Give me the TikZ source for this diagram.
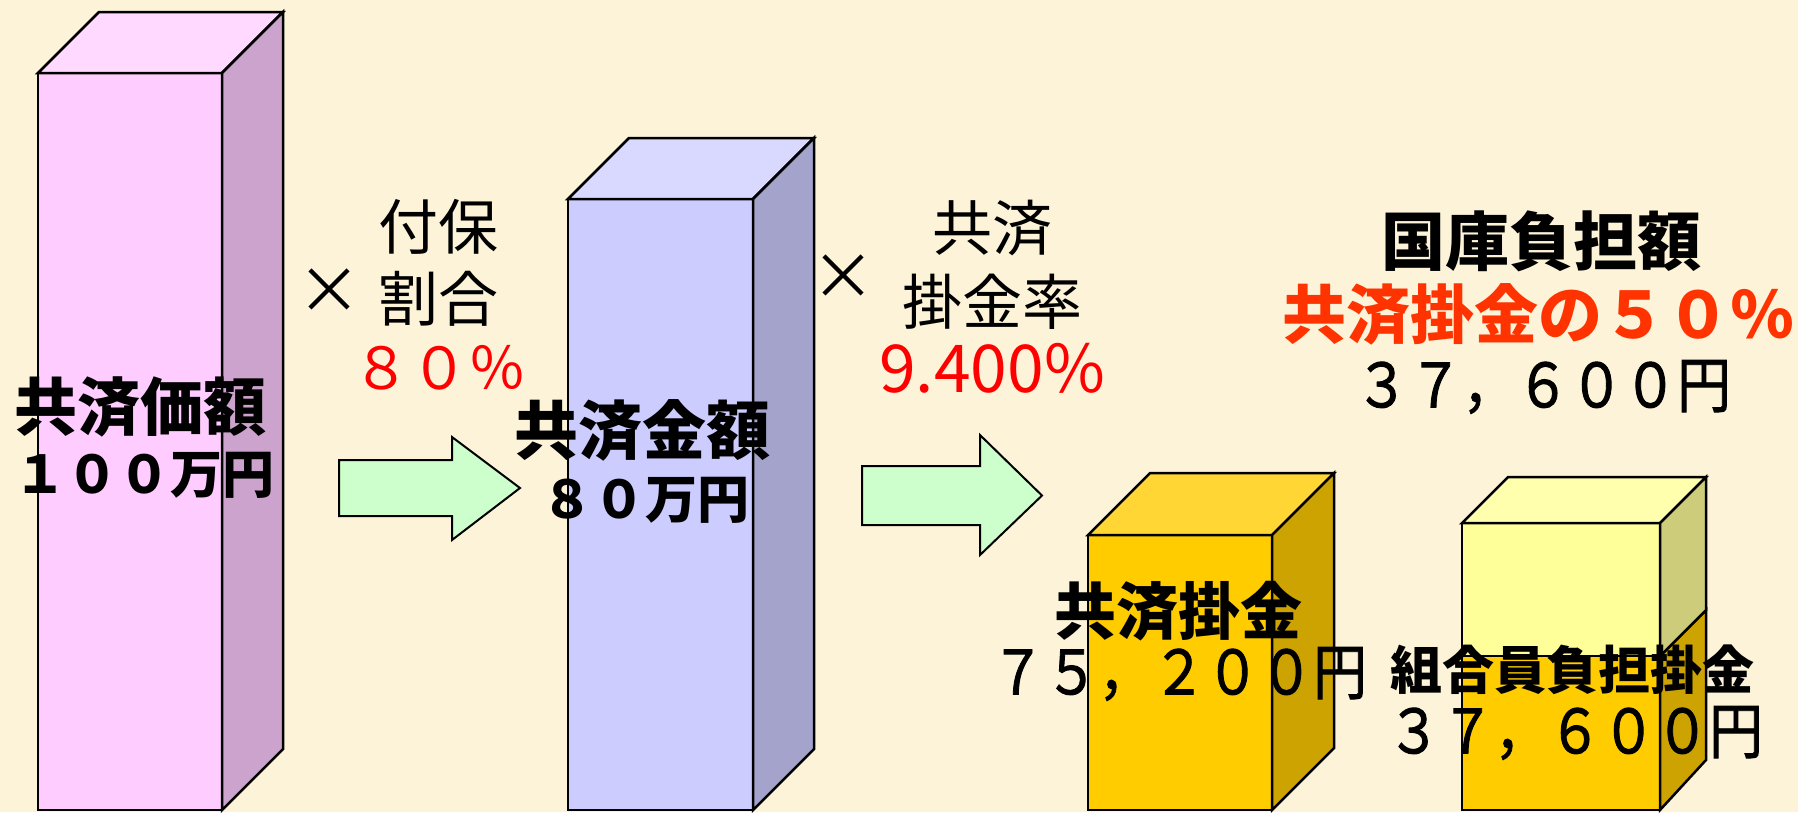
\documentclass[tikz,border=0pt]{standalone}
\usepackage{fontspec}
\setmainfont{Noto Sans CJK JP}
\newfontfamily\jpmid[FakeBold=1.5]{Noto Sans CJK JP}
\usetikzlibrary{positioning}

\definecolor{paper}{RGB}{252,243,216}
\definecolor{pinkF}{RGB}{255,204,255}
\definecolor{pinkS}{RGB}{204,163,204}
\definecolor{pinkT}{RGB}{255,217,255}
\definecolor{blueF}{RGB}{204,204,255}
\definecolor{blueS}{RGB}{163,163,204}
\definecolor{blueT}{RGB}{217,217,255}
\definecolor{goldF}{RGB}{255,204,0}
\definecolor{goldS}{RGB}{204,163,0}
\definecolor{goldT}{RGB}{255,214,51}
\definecolor{lemF}{RGB}{255,255,153}
\definecolor{lemS}{RGB}{204,204,122}
\definecolor{lemT}{RGB}{255,255,173}
\definecolor{mint}{RGB}{204,255,204}
\definecolor{orred}{RGB}{255,51,0}

% box: x1, x2, ytop, ybottom, depth, colour prefix
\newcommand{\prism}[6]{%
	\filldraw[fill=#6F] (#1,#3) rectangle (#2,#4);
	\filldraw[fill=#6T] (#1,#3) -- (#1+#5,#3-#5) -- (#2+#5,#3-#5) -- (#2,#3) -- cycle;
	\filldraw[fill=#6S] (#2,#3) -- (#2+#5,#3-#5) -- (#2+#5,#4-#5) -- (#2,#4) -- cycle;
}
% block arrow: x1, x2 (shaft end), tip, shaft top, shaft bottom, head top, head bottom
\newcommand{\fatarrow}[7]{%
	\filldraw[fill=mint,line width=2pt] (#1,#4) -- (#2,#4) -- (#2,#6) -- (#3,#4/2+#5/2) -- (#2,#7) -- (#2,#5) -- (#1,#5) -- cycle;
}

\begin{document}
\begin{tikzpicture}[x=1pt,y=-1pt,line width=2.5pt,line join=miter,
	every node/.style={inner sep=0pt},
	txt/.style={font=\fontsize{#1}{#1}\selectfont},
	btxt/.style={font=\bfseries\fontsize{#1}{#1}\selectfont},
	yen/.style={font=\jpmid\fontsize{61}{61}\selectfont,xscale=.88}]
	\fill[paper] (0,0) rectangle (1798,812);

	\prism{38}{222}{73}{810}{61}{pink}
	\prism{568}{753}{199}{810}{61}{blue}
	\prism{1088}{1272}{535}{810}{62}{gold}
	% stacked box
	\filldraw[fill=goldF] (1462,656) rectangle (1660,810);
	\filldraw[fill=goldS] (1660,656) -- (1706,610) -- (1706,760) -- (1660,810) -- cycle;
	\prism{1462}{1660}{523}{656}{46}{lem}

	\fatarrow{339}{452}{520}{460}{516}{437}{540}
	\fatarrow{862}{980}{1042}{466}{525}{435}{555}

	\node[btxt=63] (kakaku) at (140,407) {共済価額};
	\node[btxt=52] (kakakuv) at (144,475) {１００万円};
	\node[txt=64] (x1) at (329,291) {×};
	\node[txt=60] (fuho) at (438,227) {付保};
	\node[txt=60] (wari) at (438,299) {割合};
	\node[txt=58,red] (wariv) at (439,368) {８０％};

	\node[btxt=64] (kingaku) at (642,430) {共済金額};
	\node[btxt=52] (kingakuv) at (645,500) {８０万円};
	\node[txt=64] (x2) at (843,277) {×};
	\node[txt=60] (kyosai) at (992,228) {共済};
	\node[txt=60] (ritsu) at (992,302) {掛金率};
	\node[txt=66,red] (ritsuv) at (992,368) {9.400\%};

	\node[btxt=64] (kokko) at (1541,241) {国庫負担額};
	\node[btxt=64,orred] (half) at (1538,314) {共済掛金の５０％};
	\node[yen] (kokkov) at (1543,387) {３７，６００円};

	\node[btxt=62] (kakekin) at (1178,611) {共済掛金};
	\node[yen] (kakekinv) at (1179,674) {７５，２００円};
	\node[btxt=52] (kumiai) at (1572,670) {組合員負担掛金};
	\node[yen] (kumiaiv) at (1575,733) {３７，６００円};
\end{tikzpicture}
\end{document}
